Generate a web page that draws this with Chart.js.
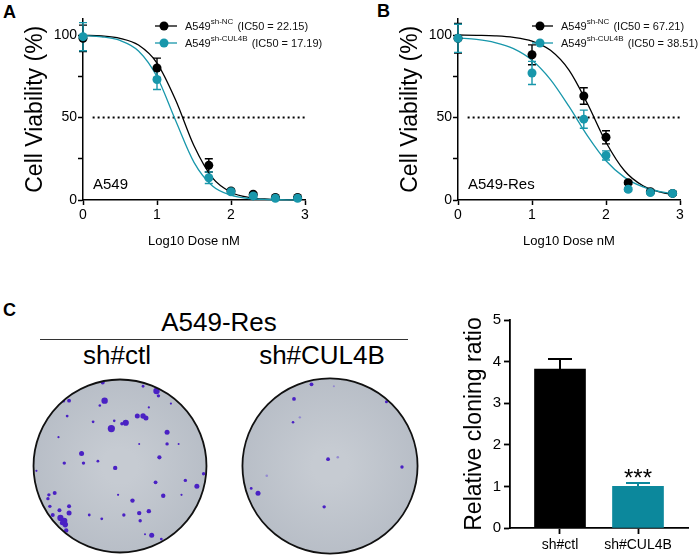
<!DOCTYPE html>
<html>
<head>
<meta charset="utf-8">
<script src="https://cdn.jsdelivr.net/npm/chart.js@4.4.1/dist/chart.umd.min.js"></script>
<style>
  html, body { margin: 0; padding: 0; background: #fff; }
  body { width: 699px; height: 557px; position: relative; overflow: hidden;
         font-family: "Liberation Sans", Arial, sans-serif; color: #000; }
  .box { position: absolute; }
  canvas { display: block; }
  .lbl { position: absolute; white-space: nowrap; line-height: 1; }
  .mid { transform: translate(-50%, -50%); }
  .panel { font-weight: bold; font-size: 18px; }
  .head { font-size: 26px; }
</style>
</head>
<body>

<div class="lbl panel" style="left:3px;top:3px">A</div>
<div class="lbl panel" style="left:377px;top:2px">B</div>
<div class="lbl panel" style="left:3px;top:301px">C</div>

<div class="lbl head mid" style="left:219px;top:322px">A549-Res</div>
<div class="box" style="left:40px;top:339px;width:368px;height:1px;background:#333"></div>
<div class="lbl head mid" style="left:117px;top:355px">sh#ctl</div>
<div class="lbl head mid" style="left:322px;top:355px">sh#CUL4B</div>

<div class="box" style="left:0;top:0"><canvas id="chartA" width="350" height="265"></canvas></div>
<div class="box" style="left:350px;top:0"><canvas id="chartB" width="349" height="265"></canvas></div>
<div class="box" style="left:28px;top:374px"><canvas id="plateCtl" width="184" height="184"></canvas></div>
<div class="box" style="left:238px;top:374px"><canvas id="plateCul" width="184" height="184"></canvas></div>
<div class="box" style="left:420px;top:300px"><canvas id="chartC" width="279" height="257"></canvas></div>

<script>
// ============================================================
// data â€” dose response (A, B)
// ============================================================
const doseLog = [0, 1, 1.7, 2, 2.3, 2.6, 2.9];
const doseTicks = [0, 1, 2, 3];
const viabTicks = [0, 25, 50, 75, 100];

// A549
const aNcMean  = [98, 80, 21, 5.5, 3.5, 1.5, 1.5];
const aNcSd    = [8, 6, 4, 1, 0.8, 0.5, 0.5];
const aCulMean = [99, 73, 13.5, 5, 2.5, 1, 1];
const aCulSd   = [8.5, 6, 3.5, 1, 0.8, 0.5, 0.5];

// A549-Res
const bNcMean  = [98, 88, 63, 38, 10.5, 5, 4];
const bNcSd    = [9, 6, 5, 4, 1, 0.8, 0.8];
const bCulMean = [98, 77, 49, 27, 6.5, 4.5, 4];
const bCulSd   = [8.5, 7, 5.5, 2.8, 1, 0.8, 0.8];

// fitted curves
const fitX     = [0, 0.25, 0.5, 0.75, 1, 1.25, 1.5, 1.75, 2, 2.25, 2.5, 2.75, 2.9];
const aNcFit   = [99.8, 99.4, 98.0, 93.9, 83.0, 60.8, 32.9, 13.4, 4.7, 1.5, 0.5, 0.2, 0.1];
const aCulFit  = [99.7, 98.9, 96.7, 90.3, 74.7, 48.3, 22.8, 8.5, 2.9, 0.9, 0.3, 0.1, 0.1];
const bNcFit   = [100, 99.8, 99.5, 98.6, 96.3, 90.7, 78.7, 58.3, 35.0, 17.7, 8.6, 4.6, 3.4];
const bCulFit  = [98.2, 97.3, 95.4, 91.7, 84.7, 73.0, 56.7, 38.9, 23.8, 13.7, 7.9, 4.9, 3.9];

// 50% reference line
const halfX = [0.13, 3];
const halfY = [50, 50];

const seriesSup = ["sh-NC", "sh-CUL4B"];
const ic50A = ["22.15", "17.19"];
const ic50B = ["67.21", "38.51"];

// ============================================================
// data â€” colony formation (C)
// ============================================================
const groups = ["sh#ctl", "sh#CUL4B"];
const cloneRatio = [3.82, 1.0];
const cloneErr = [0.24, 0.08];
const signif = ["", "***"];

// colonies: offset from plate centre (px) and radius
const ctlX = [-18, 38, 24, 40, -59, -53, -16, -21, -55, -9, 6, 2, -6, 18, 24, 27, 30, 53, 49, -28, -64, 49, 61, -40, -38, -58, -23, -5, 41, 20,
              80, 68, 87, 37, 45, 64, -2, 13, -74, -68, -75, -73, -63, -53, -70, -62, -58, -57, -60, -53, -32, -19, 4, 20, 30, 21, -56, 33, 43, 26, -87];
const ctlY = [-87, -78, -83, -73, -68, -68, -68, -63, -52, -39, -45, -44, -47, -52, -52, -50, -61, -65, -35, -46, -30, -23, -23, -13, -3, -3, -5, 2, -9, -23,
              21, 15, 8, 17, 31, 30, 30, 36, 30, 28, 34, 42, 46, 42, 51, 54, 57, 61, 59, 49, 51, 55, 51, 49, 47, 57, 67, 72, 76, 71, 5];
const ctlR = [2, 3.2, 1.4, 1.7, 1.9, 1.9, 3.2, 1.3, 1.4, 3.6, 3.1, 1.7, 1.3, 2.5, 2.7, 2.5, 1.1, 1.1, 2.5, 1.4, 1.1, 1.7, 1, 2.5, 1.7, 1.7, 1.4, 2.2, 2.1, 1,
              2.5, 1.7, 1.7, 1.9, 2.2, 1.1, 1.1, 2.2, 1.7, 2, 1.7, 1.7, 2, 2, 2, 3.1, 3.1, 2.8, 2.5, 2.5, 1.4, 1.4, 1.7, 2.2, 2.2, 1.7, 2.2, 2.5, 1.4, 1, 1.1];
const culX = [-19, -37, 58, -38, -2, 74, -81, -74, -6];
const culY = [-84, -69, -66, -45, -7, 1, 23, 28, 42];
const culR = [1.9, 1.9, 1.5, 1.3, 1.9, 1.7, 1.4, 2.5, 1.7];
const culFaintX = [-31, 8, -65, 4];
const culFaintY = [-50, -9, 10, -82];
const culFaintR = [1.2, 1.3, 1.3, 1.1];

// ============================================================
// styling
// ============================================================
const FONT = "'Liberation Sans', Arial, sans-serif";
const BLACK = "#000000";
const TEAL = "#1897ab";
const TEAL_BAR = "#0c889c";
const COLONY = "#4a21c4";
const COLONY_FAINT = "#948ad0";

const pts = (xs, ys) => xs.map((x, i) => ({ x, y: ys[i] }));

// error bars (both sides, or upward only for bars)
function errorBarPlugin(sets) {
  return {
    id: "errorBars",
    beforeDatasetsDraw(chart) {
      const { ctx, scales: { x, y } } = chart;
      sets.forEach(s => {
        ctx.save();
        ctx.strokeStyle = s.color;
        ctx.lineWidth = s.width;
        s.xs.forEach((xv, i) => {
          const px = x.getPixelForValue(xv);
          const hi = y.getPixelForValue(s.mean[i] + s.err[i]);
          const lo = y.getPixelForValue(s.upOnly ? s.mean[i] : s.mean[i] - s.err[i]);
          ctx.beginPath();
          ctx.moveTo(px, lo);
          ctx.lineTo(px, hi);
          ctx.moveTo(px - s.cap, hi);
          ctx.lineTo(px + s.cap, hi);
          if (!s.upOnly) {
            ctx.moveTo(px - s.cap, lo);
            ctx.lineTo(px + s.cap, lo);
          }
          ctx.stroke();
        });
        ctx.restore();
      });
    }
  };
}

// legend with superscript + in-plot cell line name
function curveDecorPlugin(cfg) {
  return {
    id: "curveDecor",
    afterDraw(chart) {
      const ctx = chart.ctx;
      ctx.save();
      ctx.textBaseline = "middle";
      ctx.textAlign = "left";
      cfg.rows.forEach((r, i) => {
        const yy = cfg.legendY + i * 17;
        ctx.strokeStyle = r.color;
        ctx.fillStyle = r.color;
        ctx.lineWidth = 1.3;
        ctx.beginPath();
        ctx.moveTo(cfg.lineX0, yy);
        ctx.lineTo(cfg.lineX1, yy);
        ctx.stroke();
        ctx.beginPath();
        ctx.arc(cfg.markX, yy, 4.5, 0, Math.PI * 2);
        ctx.fill();

        ctx.fillStyle = "#111";
        let tx = cfg.textX;
        ctx.font = "11px " + FONT;
        ctx.fillText("A549", tx, yy + 1);
        tx += ctx.measureText("A549").width;
        ctx.font = "8px " + FONT;
        ctx.fillText(seriesSup[i], tx, yy - 4);
        tx += ctx.measureText(seriesSup[i]).width;
        ctx.font = "11px " + FONT;
        ctx.fillText(" (IC50 = " + r.ic + ")", tx + 1, yy + 1);
      });
      ctx.font = "15px " + FONT;
      ctx.fillStyle = BLACK;
      ctx.fillText(cfg.cellLine, chart.chartArea.left + 10, 185);
      ctx.restore();
    }
  };
}

function curveChart(id, d) {
  const pointSet = (ys, color, order) => ({
    data: pts(doseLog, ys), backgroundColor: color, borderColor: color,
    pointRadius: 4.5, pointBorderWidth: 0, showLine: false, clip: false, order
  });
  const fitSet = (ys, color, order) => ({
    data: pts(fitX, ys), borderColor: color, borderWidth: 1.3, pointRadius: 0,
    showLine: true, cubicInterpolationMode: "monotone", clip: false, order
  });

  return new Chart(document.getElementById(id), {
    type: "scatter",
    data: {
      datasets: [
        pointSet(d.nc, BLACK, 1),
        pointSet(d.cul, TEAL, 0),
        fitSet(d.ncFit, BLACK, 3),
        fitSet(d.culFit, TEAL, 2),
        { data: pts(halfX, halfY), borderColor: BLACK, borderWidth: 2, borderDash: [2, 3],
          pointRadius: 0, showLine: true, order: 4 },
      ],
    },
    options: {
      responsive: false,
      animation: false,
      events: [],
      layout: { padding: { left: 0, right: d.padRight, top: 18.5, bottom: 0 } },
      plugins: { legend: { display: false }, tooltip: { enabled: false } },
      scales: {
        x: {
          type: "linear", min: 0, max: 3,
          afterBuildTicks: s => { s.ticks = doseTicks.map(v => ({ value: v })); },
          afterFit: s => { s.height = 65; },
          border: { color: BLACK, width: 1.5 },
          grid: { drawOnChartArea: false, drawTicks: true, tickLength: 5, tickWidth: 1.5, tickColor: BLACK },
          ticks: { color: BLACK, font: { family: FONT, size: 14 }, padding: 2, maxRotation: 0 },
          title: { display: true, text: "Log10 Dose nM", color: BLACK,
                   font: { family: FONT, size: 13, lineHeight: 1.2 }, padding: { top: 0, bottom: 16 } },
        },
        y: {
          type: "linear", min: 0, max: 110,
          afterBuildTicks: s => { s.ticks = viabTicks.map(v => ({ value: v })); },
          afterFit: s => { s.width = d.axisWidth; },
          border: { color: BLACK, width: 1.5 },
          grid: { drawOnChartArea: false, drawTicks: true, tickLength: 5, tickWidth: 1.5, tickColor: BLACK },
          ticks: { color: BLACK, font: { family: FONT, size: 14 }, padding: 1,
                   callback: v => (v % 50 === 0 ? v : "") },
          title: { display: true, text: "Cell Viability (%)", color: BLACK,
                   font: { family: FONT, size: 23, lineHeight: 1.2 }, padding: { top: d.titlePad, bottom: 0 } },
        },
      },
    },
    plugins: [
      errorBarPlugin([
        { xs: doseLog, mean: d.nc, err: d.ncSd, color: BLACK, width: 1.4, cap: 4 },
        { xs: doseLog, mean: d.cul, err: d.culSd, color: TEAL, width: 1.4, cap: 4 },
      ]),
      curveDecorPlugin(d.decor),
    ],
  });
}

// ============================================================
// panel A + B
// ============================================================
curveChart("chartA", {
  nc: aNcMean, ncSd: aNcSd, cul: aCulMean, culSd: aCulSd, ncFit: aNcFit, culFit: aCulFit,
  padRight: 45, axisWidth: 83, titlePad: 22,
  decor: { rows: [{ color: BLACK, ic: ic50A[0] }, { color: TEAL, ic: ic50A[1] }],
           legendY: 26, lineX0: 155, lineX1: 177, markX: 164, textX: 185, cellLine: "A549" },
});

curveChart("chartB", {
  nc: bNcMean, ncSd: bNcSd, cul: bCulMean, culSd: bCulSd, ncFit: bNcFit, culFit: bCulFit,
  padRight: 19, axisWidth: 108, titlePad: 47,
  decor: { rows: [{ color: BLACK, ic: ic50B[0] }, { color: TEAL, ic: ic50B[1] }],
           legendY: 26, lineX0: 182, lineX1: 203, markX: 190, textX: 211, cellLine: "A549-Res" },
});

// ============================================================
// panel C â€” plates
// ============================================================
const dishPlugin = {
  id: "dish",
  beforeDatasetsDraw(chart) {
    const { ctx, scales: { x, y } } = chart;
    const cx = x.getPixelForValue(0), cy = y.getPixelForValue(0);
    const r = x.getPixelForValue(90) - cx;
    const g = ctx.createRadialGradient(cx, cy, r * 0.2, cx, cy, r);
    g.addColorStop(0, "#c6cbd2");
    g.addColorStop(1, "#b8bec7");
    ctx.save();
    ctx.beginPath();
    ctx.arc(cx, cy, r, 0, Math.PI * 2);
    ctx.fillStyle = g;
    ctx.fill();
    ctx.clip();
  },
  afterDatasetsDraw(chart) {
    const { ctx, scales: { x, y } } = chart;
    ctx.restore();
    const cx = x.getPixelForValue(0), cy = y.getPixelForValue(0);
    const r = x.getPixelForValue(90) - cx;
    ctx.save();
    ctx.beginPath();
    ctx.arc(cx, cy, r, 0, Math.PI * 2);
    ctx.lineWidth = 1.8;
    ctx.strokeStyle = "#111";
    ctx.stroke();
    ctx.restore();
  }
};

function plateChart(id, sets) {
  return new Chart(document.getElementById(id), {
    type: "bubble",
    data: {
      datasets: sets.map(s => ({
        data: s.xs.map((x, i) => ({ x, y: s.ys[i], r: s.rs[i] })),
        backgroundColor: s.color, borderWidth: 0, hoverRadius: 0,
      })),
    },
    options: {
      responsive: false,
      animation: false,
      events: [],
      layout: { padding: 0 },
      plugins: { legend: { display: false }, tooltip: { enabled: false } },
      scales: {
        x: { display: false, min: -92, max: 92 },
        y: { display: false, min: -92, max: 92, reverse: true },
      },
    },
    plugins: [dishPlugin],
  });
}

plateChart("plateCtl", [{ xs: ctlX, ys: ctlY, rs: ctlR, color: COLONY }]);
plateChart("plateCul", [
  { xs: culFaintX, ys: culFaintY, rs: culFaintR, color: COLONY_FAINT },
  { xs: culX, ys: culY, rs: culR, color: COLONY },
]);

// ============================================================
// panel C â€” relative cloning ratio
// ============================================================
const starsPlugin = {
  id: "stars",
  afterDatasetsDraw(chart) {
    const { ctx, scales: { x, y } } = chart;
    ctx.save();
    ctx.font = "24px " + FONT;
    ctx.fillStyle = BLACK;
    ctx.textAlign = "center";
    ctx.textBaseline = "alphabetic";
    signif.forEach((s, i) => {
      if (!s) return;
      ctx.fillText(s, x.getPixelForValue(i + 1), y.getPixelForValue(cloneRatio[i] + cloneErr[i]) + 3);
    });
    ctx.restore();
  }
};

new Chart(document.getElementById("chartC"), {
  type: "bar",
  data: {
    datasets: [{
      data: groups.map((g, i) => ({ x: i + 1, y: cloneRatio[i] })),
      backgroundColor: [BLACK, TEAL_BAR],
      borderWidth: 0,
      barThickness: 51,
    }],
  },
  options: {
    responsive: false,
    animation: false,
    events: [],
    layout: { padding: { left: 0, right: 11, top: 20, bottom: 0 } },
    plugins: { legend: { display: false }, tooltip: { enabled: false } },
    scales: {
      x: {
        type: "linear", min: 0.359, max: 2.641, offset: false,
        afterBuildTicks: s => { s.ticks = groups.map((g, i) => ({ value: i + 1 })); },
        afterFit: s => { s.height = 29; },
        border: { color: BLACK, width: 1.8 },
        grid: { offset: false, drawOnChartArea: false, drawTicks: true, tickLength: 6, tickWidth: 1.8, tickColor: BLACK },
        ticks: { color: BLACK, font: { family: FONT, size: 14 }, padding: 3, maxRotation: 0,
                 callback: (v, i) => groups[i] },
      },
      y: {
        min: 0, max: 5,
        ticks: { stepSize: 1, color: BLACK, font: { family: FONT, size: 15 }, padding: 3 },
        afterFit: s => { s.width = 90; },
        border: { color: BLACK, width: 1.8 },
        grid: { drawOnChartArea: false, drawTicks: true, tickLength: 6, tickWidth: 1.8, tickColor: BLACK },
        title: { display: true, text: "Relative cloning ratio", color: BLACK,
                 font: { family: FONT, size: 23, lineHeight: 1.2 }, padding: { top: 41, bottom: 0 } },
      },
    },
  },
  plugins: [
    errorBarPlugin([
      { xs: [1], mean: [cloneRatio[0]], err: [cloneErr[0]], color: BLACK, width: 2, cap: 12, upOnly: true },
      { xs: [2], mean: [cloneRatio[1]], err: [cloneErr[1]], color: TEAL_BAR, width: 2, cap: 12, upOnly: true },
    ]),
    starsPlugin,
  ],
});
</script>
</body>
</html>
